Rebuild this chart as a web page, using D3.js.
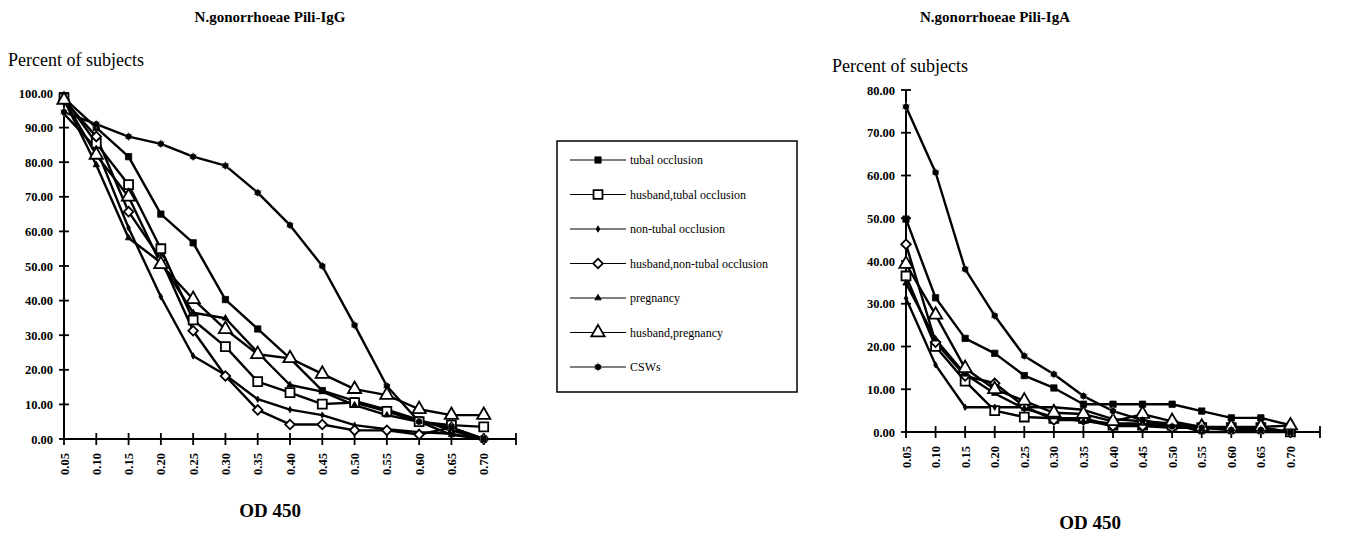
<!DOCTYPE html>
<html>
<head>
<meta charset="utf-8">
<script src="https://cdn.jsdelivr.net/npm/d3@7"></script>
<style>
  body { margin: 0; background: #fff; }
  svg { font-family: "Liberation Serif", "Times New Roman", serif; }
</style>
</head>
<body>
<svg id="chart" width="1345" height="538"></svg>
<script>
// OD 450 categories (shared by both panels)
const odLabels = ["0.05","0.10","0.15","0.20","0.25","0.30","0.35","0.40","0.45","0.50","0.55","0.60","0.65","0.70"];
const seriesNames = ["tubal occlusion","husband,tubal occlusion","non-tubal occlusion","husband,non-tubal occlusion","pregnancy","husband,pregnancy","CSWs"];

// IgG panel values (percent of subjects)
const iggTubal     = [98.5, 90.0, 81.6, 65.0, 56.7, 40.3, 31.8, 23.3, 14.0, 11.0, 8.5, 5.5, 2.5, 0.0];
const iggHTubal    = [98.5, 85.5, 73.5, 55.0, 34.4, 26.7, 16.6, 13.4, 10.1, 10.5, 8.0, 5.0, 4.0, 3.5];
const iggNonTubal  = [94.0, 84.0, 61.0, 41.1, 24.0, 18.5, 11.5, 8.5, 6.9, 4.0, 2.8, 2.0, 1.5, 0.0];
const iggHNonTubal = [98.0, 87.4, 65.7, 52.0, 31.3, 18.2, 8.4, 4.2, 4.2, 2.5, 2.5, 1.3, 3.3, 0.0];
const iggPreg      = [98.0, 79.2, 58.1, 51.0, 36.5, 34.9, 25.0, 15.6, 13.7, 9.8, 6.9, 5.0, 1.2, 0.0];
const iggHPreg     = [98.0, 82.1, 70.0, 50.5, 40.4, 31.7, 24.5, 23.3, 18.8, 14.4, 12.7, 8.6, 6.9, 6.9];
const iggCSW       = [94.5, 91.0, 87.4, 85.3, 81.6, 79.0, 71.2, 61.8, 50.0, 32.9, 15.3, 5.0, 3.3, 0.0];

// IgA panel values
const igaTubal     = [49.8, 31.4, 21.9, 18.4, 13.2, 10.3, 6.5, 6.5, 6.5, 6.5, 4.9, 3.3, 3.3, 1.6];
const igaHTubal    = [36.5, 20.0, 11.9, 5.0, 3.5, 3.2, 3.2, 1.6, 1.6, 1.6, 1.0, 1.0, 1.0, 0.0];
const igaNonTubal  = [31.3, 15.7, 5.8, 5.8, 5.8, 5.8, 5.2, 3.0, 2.5, 2.0, 1.0, 0.5, 0.5, 0.0];
const igaHNonTubal = [43.9, 21.0, 13.1, 11.4, 6.0, 2.8, 2.8, 1.4, 1.4, 1.0, 1.0, 1.0, 1.0, 0.0];
const igaPreg      = [34.8, 21.7, 13.5, 9.0, 5.5, 3.5, 2.5, 2.0, 2.0, 2.0, 0.0, 0.0, 0.0, 0.0];
const igaHPreg     = [39.3, 27.4, 14.9, 10.0, 7.3, 4.5, 4.2, 2.5, 4.2, 2.5, 1.2, 1.2, 1.2, 1.5];
const igaCSW       = [76.1, 60.7, 38.1, 27.2, 17.8, 13.5, 8.4, 4.9, 2.8, 1.3, 1.0, 0.5, 0.5, 0.0];

const iggTicks = d3.range(0, 101, 10);
const igaTicks = d3.range(0, 81, 10);

const svg = d3.select("#chart");

// marker styles per series
const markers = [
  { type: d3.symbolSquare,   size: 40,  fill: "#000" },
  { type: d3.symbolSquare,   size: 80,  fill: "#fff" },
  { type: d3.symbolDiamond,  size: 12,  fill: "#000" },
  { type: d3.symbolSquare,   size: 46,  fill: "#fff", rot: 45 },
  { type: d3.symbolTriangle, size: 18,  fill: "#000" },
  { type: d3.symbolTriangle, size: 76,  fill: "#fff" },
  { type: d3.symbolCircle,   size: 24,  fill: "#000", star: true }
];

function drawMarker(g, i, x, y) {
  const m = markers[i];
  if (m.star) {
    g.append("path")
      .attr("d", d3.symbol().type(d3.symbolAsterisk).size(55)())
      .attr("transform", `translate(${x},${y})`)
      .attr("stroke", "#888").attr("stroke-width", 1).attr("fill", "none");
  }
  g.append("path")
    .attr("d", d3.symbol().type(m.type).size(m.size)())
    .attr("transform", `translate(${x},${y}) rotate(${m.rot || 0})`)
    .attr("fill", m.fill)
    .attr("stroke", "#000")
    .attr("stroke-width", m.fill === "#fff" ? 1.8 : 0.8);
}

function panel(opt) {
  const g = svg.append("g");
  const x = d3.scaleLinear().domain([0, 14]).range([opt.x0, opt.x1]);
  const y = d3.scaleLinear().domain([0, opt.yMax]).range([opt.y0, opt.y1]);

  // y axis labels
  const ya = g.append("g").attr("transform", `translate(${opt.x0},0)`)
    .call(d3.axisLeft(y).tickValues(opt.ticks).tickSize(0).tickPadding(11).tickFormat(d3.format(".2f")));
  ya.select(".domain").remove();
  ya.selectAll("text").attr("font-family", "Liberation Serif").attr("font-weight", "bold").attr("font-size", 12.5).attr("fill", "#000");
  g.append("line").attr("x1", opt.x0).attr("x2", opt.x0).attr("y1", y(opt.yMax)).attr("y2", y(0))
    .attr("stroke", "#000").attr("stroke-width", 2);
  g.selectAll(".ytick").data(opt.ticks).enter().append("line")
    .attr("x1", opt.x0 - 5).attr("x2", opt.x0 + 5)
    .attr("y1", d => y(d)).attr("y2", d => y(d))
    .attr("stroke", "#000").attr("stroke-width", 1.8);

  // x axis
  g.append("line").attr("x1", opt.x0).attr("x2", opt.x1).attr("y1", y(0)).attr("y2", y(0))
    .attr("stroke", "#000").attr("stroke-width", 2);
  g.selectAll(".xtick").data(d3.range(0, 15)).enter().append("line")
    .attr("x1", d => x(d)).attr("x2", d => x(d))
    .attr("y1", y(0) - 6).attr("y2", y(0) + 6)
    .attr("stroke", "#000").attr("stroke-width", 1.8);
  g.selectAll(".xlab").data(odLabels).enter().append("text")
    .attr("transform", (d, i) => `translate(${x(i) + 4.5},${y(0) + 14}) rotate(-90)`)
    .attr("text-anchor", "end")
    .attr("font-weight", "bold").attr("font-size", 12.5)
    .text(d => d);

  // series
  const line = d3.line().x((d, i) => x(i)).y(d => y(d));
  opt.series.forEach(s => {
    g.append("path").datum(s).attr("d", line)
      .attr("fill", "none").attr("stroke", "#000").attr("stroke-width", 2.4)
      .attr("stroke-linejoin", "round");
  });
  opt.series.forEach((s, si) => {
    s.forEach((v, i) => drawMarker(g, si, x(i), y(v)));
  });

  // texts
  g.append("text").attr("x", opt.titleX).attr("y", 22).attr("text-anchor", "middle")
    .attr("font-weight", "bold").attr("font-size", 15).text(opt.title);
  g.append("text").attr("x", opt.ylabX).attr("y", opt.ylabY)
    .attr("font-size", 18).text("Percent of subjects");
  g.append("text").attr("x", opt.odX).attr("y", opt.odY).attr("text-anchor", "middle")
    .attr("font-weight", "bold").attr("font-size", 19).text("OD 450");
}

panel({
  x0: 64, x1: 516, y0: 439, y1: 93, yMax: 100, ticks: iggTicks,
  series: [iggTubal, iggHTubal, iggNonTubal, iggHNonTubal, iggPreg, iggHPreg, iggCSW],
  title: "N.gonorrhoeae Pili-IgG", titleX: 270,
  ylabX: 8, ylabY: 66, odX: 270, odY: 517
});

panel({
  x0: 906, x1: 1320, y0: 432, y1: 90, yMax: 80, ticks: igaTicks,
  series: [igaTubal, igaHTubal, igaNonTubal, igaHNonTubal, igaPreg, igaHPreg, igaCSW],
  title: "N.gonorrhoeae Pili-IgA", titleX: 995,
  ylabX: 832, ylabY: 72, odX: 1090, odY: 529
});

// legend
const lg = svg.append("g");
lg.append("rect").attr("x", 557).attr("y", 141).attr("width", 240).attr("height", 251)
  .attr("fill", "none").attr("stroke", "#000").attr("stroke-width", 1.5);
seriesNames.forEach((name, i) => {
  const yy = 160 + i * 34.5;
  lg.append("line").attr("x1", 570).attr("x2", 626).attr("y1", yy).attr("y2", yy)
    .attr("stroke", "#000").attr("stroke-width", 1.2);
  drawMarker(lg, i, 598, yy);
  lg.append("text").attr("x", 630).attr("y", yy + 4).attr("font-size", 12).text(name);
});
</script>
</body>
</html>
